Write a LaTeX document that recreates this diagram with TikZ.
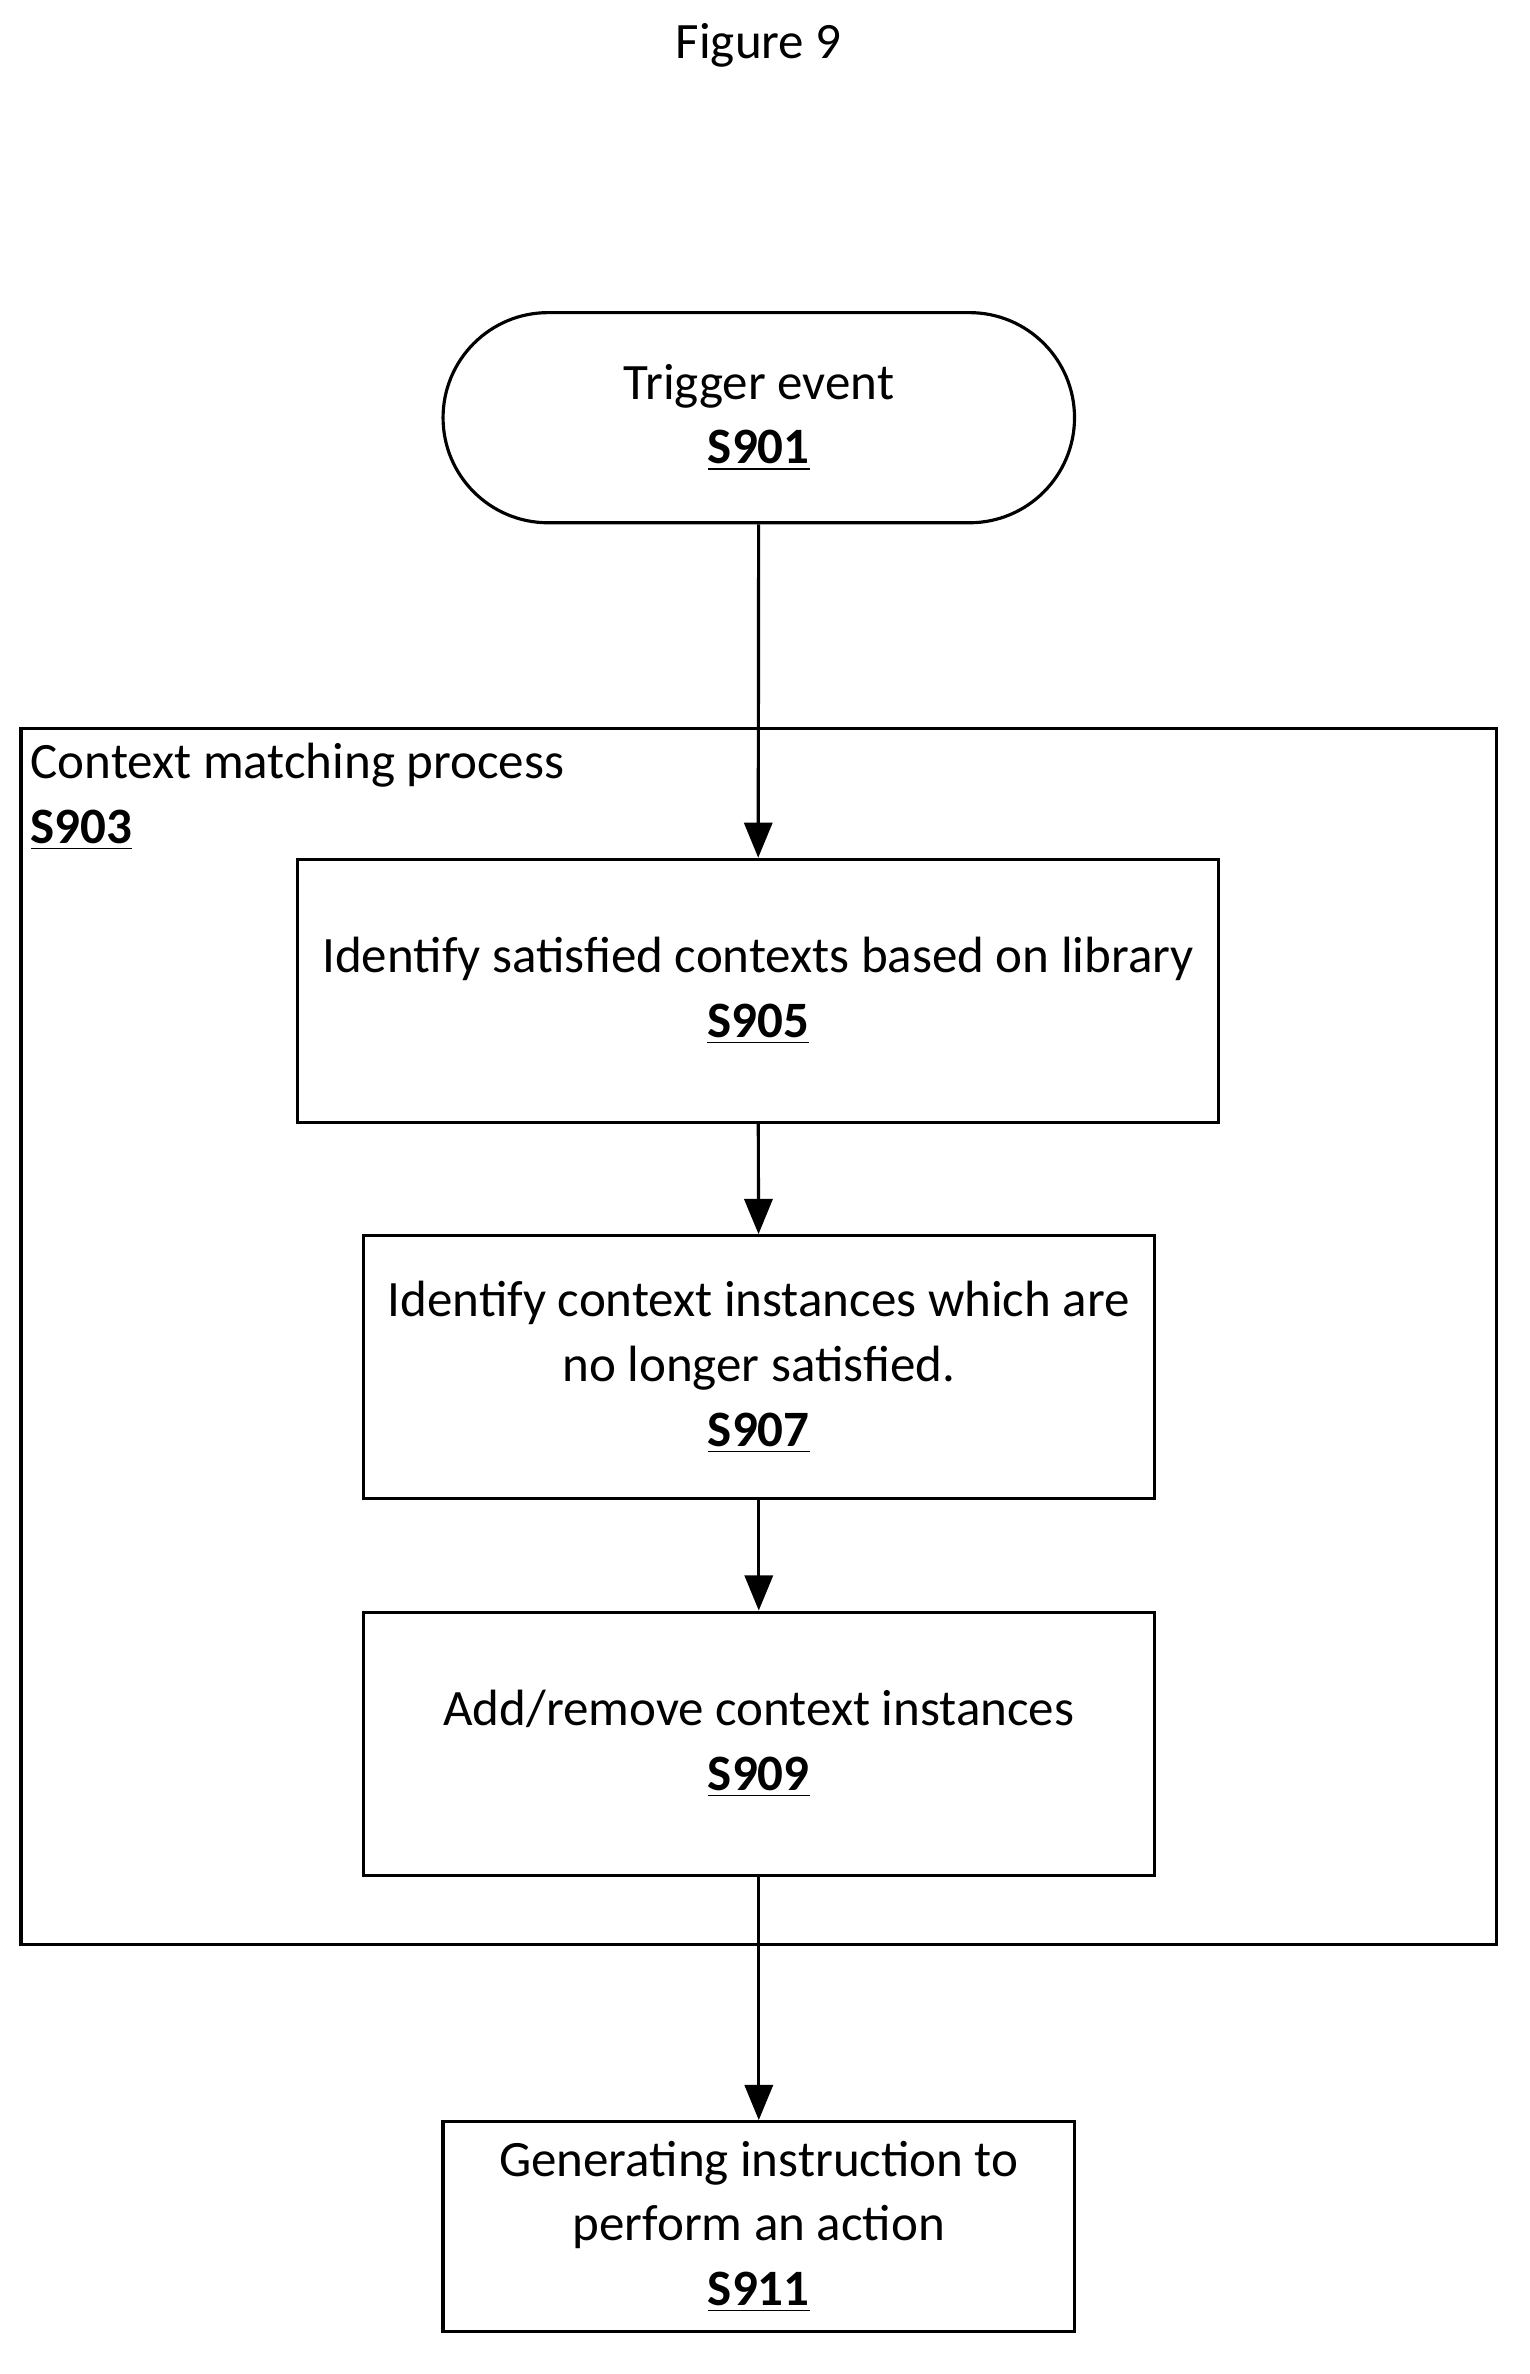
\documentclass[tikz,border=0pt]{standalone}
\usepackage{fontspec}
\setmainfont{Carlito}
\usetikzlibrary{arrows.meta}

\tikzset{
	stepbox/.style={draw, line width=0.9pt, align=center, minimum height=2.63cm, inner sep=2pt},
	term/.style={stepbox, rounded corners=1.05cm, minimum width=6.31cm, minimum height=2.10cm},
	flow/.style={line width=0.9pt, -{Triangle[length=10pt, width=8pt]}}
}

\begin{document}
\begin{tikzpicture}[x=0.01502cm, y=-0.01502cm, font=\fontsize{14.5}{18.4}\selectfont]
	
	% Page size
	\useasboundingbox (0,0) rectangle (1018,1580);
	
	\node (title) at (505,30) {Figure 9};
	
	% Start
	\node[term] (s901) at (505,278) {Trigger event\\\underline{\textbf{S901}}};
	
	% Outer process box
	\draw[line width=0.9pt] (14,485) rectangle (996,1294);
	\node[anchor=north west, align=left, inner sep=0pt] (s903) at (20,494) {Context matching process\\\underline{\textbf{S903}}};
	
	% Inner steps
	\node[stepbox, minimum width=9.21cm] (s905) at (504.5,659.5) {Identify satisfied contexts based on library\\\underline{\textbf{S905}}};
	\node[stepbox, minimum width=7.90cm] (s907) at (505,910) {Identify context instances which are\\no longer satisfied.\\\underline{\textbf{S907}}};
	\node[stepbox, minimum width=7.90cm] (s909) at (505,1160.5) {Add/remove context instances\\\underline{\textbf{S909}}};
	
	% End step
	\node[stepbox, minimum width=6.31cm, minimum height=2.10cm] (s911) at (505,1482) {Generating instruction to\\perform an action\\\underline{\textbf{S911}}};
	
	% Arrows
	\draw[flow] (s901) -- (s905);
	\draw[flow] (s905) -- (s907);
	\draw[flow] (s907) -- (s909);
	\draw[flow] (s909) -- (s911);
	
\end{tikzpicture}
\end{document}
